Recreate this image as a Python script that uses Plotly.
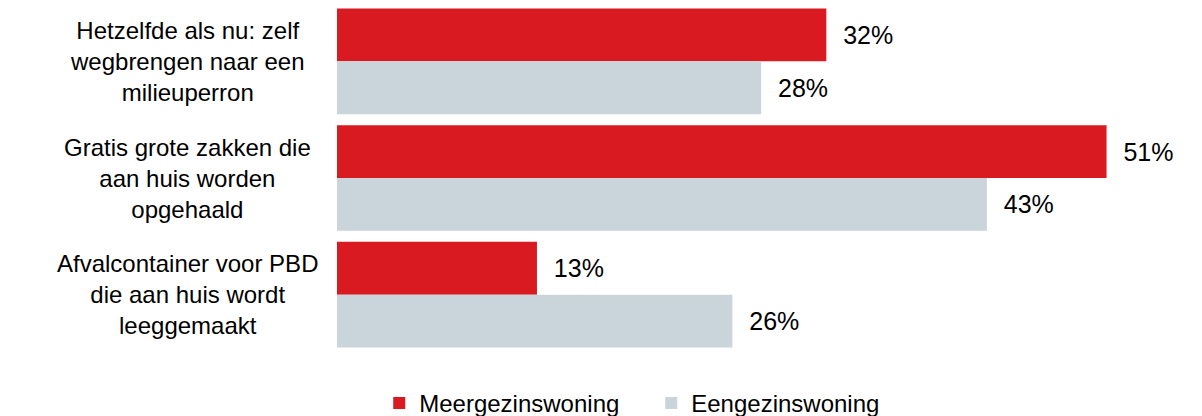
import plotly.graph_objects as go

categories = [
    "Hetzelfde als nu: zelf<br>wegbrengen naar een<br>milieuperron",
    "Gratis grote zakken die<br>aan huis worden<br>opgehaald",
    "Afvalcontainer voor PBD<br>die aan huis wordt<br>leeggemaakt",
]
series_names = ["Meergezinswoning", "Eengezinswoning"]
meergezins = [32.3, 50.8, 13.2]
eengezins = [28.0, 42.9, 26.1]
colors = ["#D91A21", "#C9D5DB"]

font_family = "Liberation Sans, Arial, sans-serif"

fig = go.Figure()
for name, vals, col in zip(series_names, [meergezins, eengezins], colors):
    fig.add_trace(go.Bar(
        y=categories, x=vals, name=name, orientation="h",
        marker=dict(color=col, line=dict(width=0)),
        texttemplate="  %{x:.0f}%", textposition="outside",
        textfont=dict(size=25, color="#000000", family=font_family),
        cliponaxis=False,
    ))

for c in categories:
    fig.add_annotation(
        x=-0.173, xref="paper", y=c, yref="y",
        text=c, showarrow=False, xanchor="center", yanchor="middle", align="center",
        font=dict(size=24, color="#000000", family=font_family),
    )

fig.update_layout(
    width=1202, height=416,
    margin=dict(l=337, r=0, t=2.5, b=62.5, autoexpand=False),
    barmode="group", bargap=0.094, bargroupgap=0.0,
    plot_bgcolor="white", paper_bgcolor="white",
    xaxis=dict(range=[0, 57.1], visible=False, fixedrange=True),
    yaxis=dict(autorange="reversed", showticklabels=False, showgrid=False,
               zeroline=False, showline=False, ticks=""),
    legend=dict(orientation="h", xref="container", yref="container",
                x=0.3155, xanchor="left", y=0.03, yanchor="middle",
                font=dict(size=24, color="#000000", family=font_family),
                entrywidth=227,
                itemsizing="constant", traceorder="normal"),
    font=dict(family=font_family),
    showlegend=True,
)

fig.write_html("out.html", config={"displayModeBar": False},
               post_script="document.body.style.margin='0';")
